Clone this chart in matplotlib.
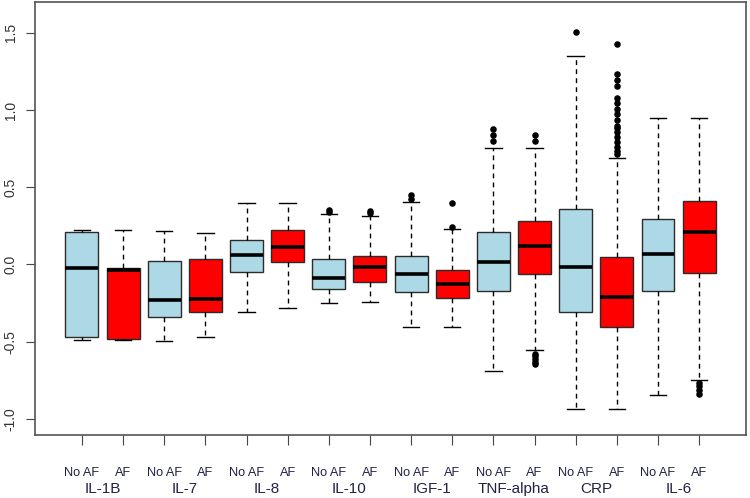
import numpy as np
import matplotlib
matplotlib.use("Agg")
import matplotlib.pyplot as plt

plt.rcParams['font.family'] = ['Liberation Sans', 'DejaVu Sans']

# --- Data (box statistics) ---
markers = ['IL-1B', 'IL-7', 'IL-8', 'IL-10', 'IGF-1', 'TNF-alpha', 'CRP', 'IL-6']
groups = ['No AF', 'AF']

whis_hi = [0.224, 0.224, 0.219, 0.204, 0.400, 0.400, 0.327, 0.314,
           0.407, 0.232, 0.757, 0.757, 1.351, 0.688, 0.951, 0.951]
q3 = [0.208, -0.025, 0.023, 0.034, 0.161, 0.224, 0.036, 0.055,
      0.055, -0.038, 0.209, 0.282, 0.362, 0.051, 0.295, 0.412]
medians = [-0.025, -0.036, -0.232, -0.221, 0.064, 0.115, -0.085, -0.018,
           -0.062, -0.128, 0.018, 0.122, -0.018, -0.209, 0.068, 0.211]
q1 = [-0.468, -0.480, -0.338, -0.306, -0.049, 0.016, -0.161, -0.115,
      -0.178, -0.215, -0.172, -0.060, -0.306, -0.405, -0.172, -0.055]
whis_lo = [-0.489, -0.489, -0.498, -0.472, -0.306, -0.284, -0.252, -0.243,
           -0.407, -0.407, -0.688, -0.552, -0.934, -0.934, -0.846, -0.749]
outliers = [
    [], [], [], [], [], [],
    [0.350, 0.340],
    [0.345, 0.335],
    [0.450, 0.425],
    [0.399, 0.245],
    [0.880, 0.837, 0.798],
    [0.837, 0.798, -0.580, -0.595, -0.610, -0.630, -0.645],
    [1.505],
    [1.425, 1.235, 1.194, 1.155, 1.081, 1.045, 1.008, 0.973, 0.936,
     0.898, 0.883, 0.861, 0.826, 0.792, 0.760, 0.736, 0.718],
    [],
    [-0.770, -0.790, -0.813, -0.841],
]
fill_colors = ['lightblue', 'red']

# --- Build stats for bxp ---
stats = []
for i in range(len(medians)):
    stats.append(dict(med=medians[i], q1=q1[i], q3=q3[i],
                      whislo=whis_lo[i], whishi=whis_hi[i],
                      fliers=outliers[i]))

positions = np.arange(1, len(stats) + 1)

fig = plt.figure(figsize=(7.5, 4.98), dpi=100)
ax = fig.add_axes([0.0467, 0.1265, 0.948, 0.8695])

bp = ax.bxp(stats, positions=positions, widths=0.8, patch_artist=True,
            showfliers=True,
            boxprops=dict(edgecolor='#2b2b2b', linewidth=1.0),
            medianprops=dict(color='black', linewidth=2.6, solid_capstyle='butt'),
            whiskerprops=dict(color='black', linestyle=(0, (3.5, 3)), linewidth=1.0),
            capprops=dict(color='black', linewidth=1.0),
            flierprops=dict(marker='o', markersize=3.7, markerfacecolor='black',
                            markeredgecolor='black', linestyle='none'),
            capwidths=0.4)
for i, patch in enumerate(bp['boxes']):
    patch.set_facecolor(fill_colors[i % 2])

ax.set_xlim(-0.14, 17.14)
ax.set_ylim(-1.105, 1.70)

# y axis R-style
ax.set_yticks([-1.0, -0.5, 0.0, 0.5, 1.0, 1.5])
ax.set_yticklabels(['-1.0', '-0.5', '0.0', '0.5', '1.0', '1.5'],
                   rotation=90, va='center', fontsize=10, color='#333333')
ax.tick_params(axis='y', length=6.5, color='#444444', pad=6)

# x axis: group labels + marker names
ax.set_xticks(positions)
ax.set_xticklabels([groups[i % 2] for i in range(len(positions))],
                   fontsize=9.2, color='#222244')
ax.tick_params(axis='x', length=7.2, color='#444444', pad=15.5)
for k, name in enumerate(markers):
    ax.text(2 * k + 1.5, -0.1247, name, transform=ax.get_xaxis_transform(),
            ha='center', va='center', fontsize=11, color='#222244')

for s in ax.spines.values():
    s.set_color('#555555')
    s.set_linewidth(1.2)

fig.savefig('out.png', dpi=100)
